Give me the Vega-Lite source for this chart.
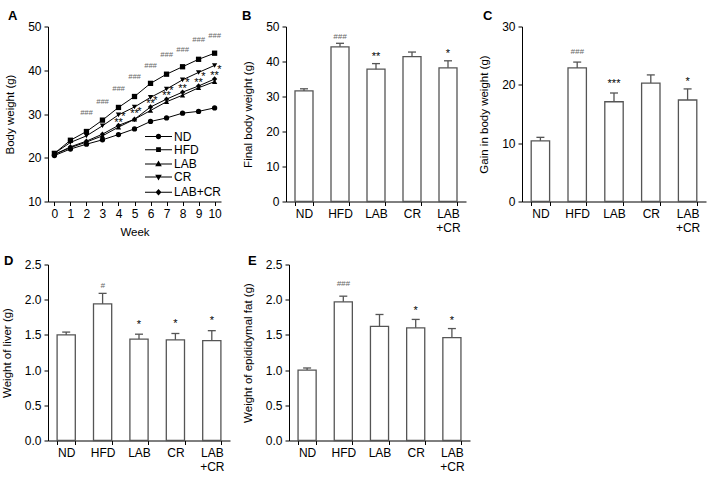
{
  "$schema": "https://vega.github.io/schema/vega-lite/v6.json",
  "autosize": {"type": "pad"},
  "padding": {"left": 1, "top": 9.5, "right": 5, "bottom": 5},
  "background": "white",
  "config": {
    "font": "Liberation Sans",
    "view": {"stroke": null},
    "axis": {
      "labelFont": "Liberation Sans", "titleFont": "Liberation Sans",
      "labelFontSize": 12, "titleFontSize": 11.5, "titleFontWeight": "normal",
      "labelColor": "black", "titleColor": "black",
      "domainColor": "black", "tickColor": "black", "domainWidth": 1, "tickWidth": 1,
      "tickSize": 4, "labelPadding": 3, "titlePadding": 12, "grid": false,
      "labelFlush": false, "labelOverlap": false
    },
    "title": {"anchor": "start", "frame": "group", "fontSize": 13, "fontWeight": "bold", "font": "Liberation Sans", "color": "black", "offset": -1}
  },
  "datasets": {
    "series": [
      {"week": 0, "group": "ND", "w": 20.5}, {"week": 1, "group": "ND", "w": 22.0}, {"week": 2, "group": "ND", "w": 23.1}, {"week": 3, "group": "ND", "w": 24.1}, {"week": 4, "group": "ND", "w": 25.3}, {"week": 5, "group": "ND", "w": 26.6}, {"week": 6, "group": "ND", "w": 28.3}, {"week": 7, "group": "ND", "w": 29.1}, {"week": 8, "group": "ND", "w": 30.2}, {"week": 9, "group": "ND", "w": 30.6}, {"week": 10, "group": "ND", "w": 31.4},
      {"week": 0, "group": "HFD", "w": 21.0}, {"week": 1, "group": "HFD", "w": 24.0}, {"week": 2, "group": "HFD", "w": 26.0}, {"week": 3, "group": "HFD", "w": 28.6}, {"week": 4, "group": "HFD", "w": 31.5}, {"week": 5, "group": "HFD", "w": 34.0}, {"week": 6, "group": "HFD", "w": 37.0}, {"week": 7, "group": "HFD", "w": 39.1}, {"week": 8, "group": "HFD", "w": 40.8}, {"week": 9, "group": "HFD", "w": 42.5}, {"week": 10, "group": "HFD", "w": 43.9},
      {"week": 0, "group": "LAB", "w": 20.8}, {"week": 1, "group": "LAB", "w": 22.3}, {"week": 2, "group": "LAB", "w": 23.6}, {"week": 3, "group": "LAB", "w": 25.0}, {"week": 4, "group": "LAB", "w": 27.0}, {"week": 5, "group": "LAB", "w": 28.8}, {"week": 6, "group": "LAB", "w": 30.8}, {"week": 7, "group": "LAB", "w": 32.8}, {"week": 8, "group": "LAB", "w": 34.3}, {"week": 9, "group": "LAB", "w": 36.0}, {"week": 10, "group": "LAB", "w": 37.4},
      {"week": 0, "group": "CR", "w": 21.0}, {"week": 1, "group": "CR", "w": 23.5}, {"week": 2, "group": "CR", "w": 25.0}, {"week": 3, "group": "CR", "w": 27.3}, {"week": 4, "group": "CR", "w": 29.8}, {"week": 5, "group": "CR", "w": 31.6}, {"week": 6, "group": "CR", "w": 33.8}, {"week": 7, "group": "CR", "w": 35.7}, {"week": 8, "group": "CR", "w": 37.8}, {"week": 9, "group": "CR", "w": 39.5}, {"week": 10, "group": "CR", "w": 41.1},
      {"week": 0, "group": "LAB+CR", "w": 20.7}, {"week": 1, "group": "LAB+CR", "w": 22.5}, {"week": 2, "group": "LAB+CR", "w": 23.8}, {"week": 3, "group": "LAB+CR", "w": 25.4}, {"week": 4, "group": "LAB+CR", "w": 27.4}, {"week": 5, "group": "LAB+CR", "w": 28.8}, {"week": 6, "group": "LAB+CR", "w": 31.6}, {"week": 7, "group": "LAB+CR", "w": 33.4}, {"week": 8, "group": "LAB+CR", "w": 35.0}, {"week": 9, "group": "LAB+CR", "w": 36.4}, {"week": 10, "group": "LAB+CR", "w": 38.0}
    ],
    "annA": [
      {"week": 2, "w": 30.3, "t": "###"}, {"week": 3, "w": 33.0, "t": "###"}, {"week": 4, "w": 35.8, "t": "###"}, {"week": 5, "w": 38.6, "t": "###"}, {"week": 6, "w": 41.2, "t": "###"}, {"week": 7, "w": 43.7, "t": "###"}, {"week": 8, "w": 44.8, "t": "###"}, {"week": 9, "w": 47.0, "t": "###"}, {"week": 10, "w": 48.1, "t": "###"},
      {"week": 4, "w": 28.7, "t": "**"}, {"week": 5, "w": 30.8, "t": "**"}, {"week": 6, "w": 33.0, "t": "**"}, {"week": 7, "w": 34.9, "t": "**"}, {"week": 8, "w": 36.5, "t": "**"}, {"week": 9, "w": 37.8, "t": "**"}, {"week": 10, "w": 39.5, "t": "**"},
      {"week": 4.3, "w": 30.0, "t": "*"}, {"week": 5.3, "w": 31.3, "t": "*"}, {"week": 6.3, "w": 33.8, "t": "*"}, {"week": 7.3, "w": 35.9, "t": "*"}, {"week": 8.3, "w": 37.8, "t": "*"}, {"week": 9.3, "w": 39.3, "t": "*"}, {"week": 10.3, "w": 40.7, "t": "*"}
    ],
    "B": [
      {"g": "ND", "m": 31.6, "hi": 32.2, "sig": "", "sy": null},
      {"g": "HFD", "m": 44.2, "hi": 45.2, "sig": "###", "sy": 47.1},
      {"g": "LAB", "m": 37.8, "hi": 39.4, "sig": "**", "sy": 42.2},
      {"g": "CR", "m": 41.4, "hi": 42.7, "sig": "", "sy": null},
      {"g": "LAB+CR", "m": 38.2, "hi": 40.2, "sig": "*", "sy": 43.1}
    ],
    "C": [
      {"g": "ND", "m": 10.4, "hi": 11.0, "sig": "", "sy": null},
      {"g": "HFD", "m": 22.9, "hi": 23.9, "sig": "###", "sy": 25.8},
      {"g": "LAB", "m": 17.1, "hi": 18.6, "sig": "***", "sy": 20.7},
      {"g": "CR", "m": 20.3, "hi": 21.7, "sig": "", "sy": null},
      {"g": "LAB+CR", "m": 17.4, "hi": 19.3, "sig": "*", "sy": 21.1}
    ],
    "D": [
      {"g": "ND", "m": 1.50, "hi": 1.54, "sig": "", "sy": null},
      {"g": "HFD", "m": 1.94, "hi": 2.09, "sig": "#", "sy": 2.21},
      {"g": "LAB", "m": 1.44, "hi": 1.51, "sig": "*", "sy": 1.68},
      {"g": "CR", "m": 1.43, "hi": 1.52, "sig": "*", "sy": 1.70},
      {"g": "LAB+CR", "m": 1.42, "hi": 1.56, "sig": "*", "sy": 1.74}
    ],
    "E": [
      {"g": "ND", "m": 1.00, "hi": 1.03, "sig": "", "sy": null},
      {"g": "HFD", "m": 1.97, "hi": 2.05, "sig": "###", "sy": 2.24},
      {"g": "LAB", "m": 1.62, "hi": 1.79, "sig": "", "sy": null},
      {"g": "CR", "m": 1.60, "hi": 1.72, "sig": "*", "sy": 1.89},
      {"g": "LAB+CR", "m": 1.46, "hi": 1.59, "sig": "*", "sy": 1.74}
    ]
  },
  "vconcat": [
    {
      "hconcat": [
        {
          "width": 173, "height": 175,
          "title": {"text": "A", "dx": -40, "dy": 1.5},
          "encoding": {
            "x": {"field": "week", "type": "quantitative", "scale": {"domain": [-0.4, 10.4], "nice": false, "zero": false}, "axis": {"values": [0,1,2,3,4,5,6,7,8,9,10], "title": "Week", "titlePadding": 7, "labelOverlap": false}},
            "y": {"field": "w", "type": "quantitative", "scale": {"domain": [10, 50], "nice": false, "zero": false}, "axis": {"values": [10,20,30,40,50], "title": "Body weight (g)", "labelOverlap": false}}
          },
          "layer": [
            {
              "data": {"name": "series"},
              "mark": {"type": "line", "color": "black", "strokeWidth": 1},
              "encoding": {"detail": {"field": "group"}}
            },
            {
              "data": {"name": "series"},
              "mark": {"type": "point", "filled": true, "color": "black", "size": 28, "opacity": 1,
                "shape": {"expr": "datum.group === 'ND' ? 'circle' : datum.group === 'HFD' ? 'square' : datum.group === 'LAB' ? 'triangle-up' : datum.group === 'CR' ? 'triangle-down' : 'diamond'"}}
            },
            {
              "data": {"name": "series"},
              "transform": [{"filter": "datum.week < -5"}],
              "mark": {"type": "point", "filled": true, "color": "black", "opacity": 1},
              "encoding": {
                "shape": {
                  "field": "group", "type": "nominal",
                  "scale": {"domain": ["ND", "HFD", "LAB", "CR", "LAB+CR"], "range": [
                    "M-4.5,-0.17L-0.5,-0.17L-0.5,0.17L-4.5,0.17ZM0.5,-0.17L4.5,-0.17L4.5,0.17L0.5,0.17ZM0.9,0A0.9,0.9,0,1,1,-0.9,0A0.9,0.9,0,1,1,0.9,0Z",
                    "M-4.5,-0.17L-0.5,-0.17L-0.5,0.17L-4.5,0.17ZM0.5,-0.17L4.5,-0.17L4.5,0.17L0.5,0.17ZM-0.8,-0.8L0.8,-0.8L0.8,0.8L-0.8,0.8Z",
                    "M-4.5,-0.17L-0.5,-0.17L-0.5,0.17L-4.5,0.17ZM0.5,-0.17L4.5,-0.17L4.5,0.17L0.5,0.17ZM0,-1.1L1.1,0.8L-1.1,0.8Z",
                    "M-4.5,-0.17L-0.5,-0.17L-0.5,0.17L-4.5,0.17ZM0.5,-0.17L4.5,-0.17L4.5,0.17L0.5,0.17ZM0,1.1L-1.1,-0.8L1.1,-0.8Z",
                    "M-4.5,-0.17L-0.5,-0.17L-0.5,0.17L-4.5,0.17ZM0.5,-0.17L4.5,-0.17L4.5,0.17L0.5,0.17ZM0,-1.1L1,0L0,1.1L-1,0Z"
                  ]},
                  "legend": {
                    "orient": "none", "legendX": 104.5, "legendY": 104, "title": null,
                    "symbolSize": 36, "labelFontSize": 12, "labelFont": "Liberation Sans", "labelColor": "black",
                    "labelOffset": 9.5, "rowPadding": 1.2, "padding": 0,
                    "symbolFillColor": "black", "symbolOpacity": 1
                  }
                }
              }
            },
            {
              "data": {"name": "annA"},
              "transform": [{"filter": "datum.t === '###'"}],
              "mark": {"type": "text", "fontSize": 7.5, "fontStyle": "italic", "color": "#666", "baseline": "alphabetic", "dy": 2.8},
              "encoding": {"text": {"field": "t"}}
            },
            {
              "data": {"name": "annA"},
              "transform": [{"filter": "datum.t !== '###'"}],
              "mark": {"type": "text", "fontSize": 11, "color": "black", "baseline": "alphabetic", "dy": 6.2},
              "encoding": {"text": {"field": "t"}}
            }
          ]
        },
        {
          "hconcat": [
            {
              "width": 180, "height": 175,
              "title": {"text": "B", "dx": -44, "dy": 1.5},
              "data": {"name": "B"},
              "encoding": {
                "x": {"field": "g", "type": "nominal", "sort": ["ND", "HFD", "LAB", "CR", "LAB+CR"], "scale": {"paddingInner": 0.5, "paddingOuter": 0.25}, "axis": {"title": null, "tickBand": "extent", "labelAngle": 0, "labelBaseline": "top", "labelLineHeight": 14, "labelOverlap": false, "labelExpr": "datum.value === 'LAB+CR' ? ['LAB', '+CR'] : datum.value"}},
                "y": {"field": "m", "type": "quantitative", "scale": {"domain": [0, 50], "nice": false}, "axis": {"values": [0,10,20,30,40,50], "title": "Final body weight (g)", "labelOverlap": false}}
              },
              "layer": [
                {"mark": {"type": "bar", "fill": "white", "stroke": "#555", "strokeWidth": 1.3}},
                {"mark": {"type": "rule", "stroke": "#555", "strokeWidth": 1.3}, "encoding": {"y2": {"field": "hi"}}},
                {"mark": {"type": "tick", "color": "#555", "thickness": 1.3, "size": 8, "opacity": 1}, "encoding": {"y": {"field": "hi", "type": "quantitative", "axis": {"values": [0,10,20,30,40,50], "title": "Final body weight (g)", "labelOverlap": false}}}},
                {"transform": [{"filter": "indexof(datum.sig, '#') >= 0"}], "mark": {"type": "text", "fontSize": 8, "fontStyle": "italic", "color": "#666", "baseline": "alphabetic", "dy": 2.8}, "encoding": {"y": {"field": "sy", "type": "quantitative", "axis": {"values": [0,10,20,30,40,50], "title": "Final body weight (g)", "labelOverlap": false}}, "text": {"field": "sig"}}},
                {"transform": [{"filter": "indexof(datum.sig, '*') >= 0"}], "mark": {"type": "text", "fontSize": 11, "color": "black", "baseline": "alphabetic", "dy": 6.2}, "encoding": {"y": {"field": "sy", "type": "quantitative", "axis": {"values": [0,10,20,30,40,50], "title": "Final body weight (g)", "labelOverlap": false}}, "text": {"field": "sig"}}}
              ]
            },
            {
              "width": 184, "height": 175,
              "title": {"text": "C", "dx": -39, "dy": 1.5},
              "data": {"name": "C"},
              "encoding": {
                "x": {"field": "g", "type": "nominal", "sort": ["ND", "HFD", "LAB", "CR", "LAB+CR"], "scale": {"paddingInner": 0.5, "paddingOuter": 0.25}, "axis": {"title": null, "tickBand": "extent", "labelAngle": 0, "labelBaseline": "top", "labelLineHeight": 14, "labelOverlap": false, "labelExpr": "datum.value === 'LAB+CR' ? ['LAB', '+CR'] : datum.value"}},
                "y": {"field": "m", "type": "quantitative", "scale": {"domain": [0, 30], "nice": false}, "axis": {"values": [0,10,20,30], "title": "Gain in body weight (g)", "labelOverlap": false}}
              },
              "layer": [
                {"mark": {"type": "bar", "fill": "white", "stroke": "#555", "strokeWidth": 1.3}},
                {"mark": {"type": "rule", "stroke": "#555", "strokeWidth": 1.3}, "encoding": {"y2": {"field": "hi"}}},
                {"mark": {"type": "tick", "color": "#555", "thickness": 1.3, "size": 8, "opacity": 1}, "encoding": {"y": {"field": "hi", "type": "quantitative", "axis": {"values": [0,10,20,30], "title": "Gain in body weight (g)", "labelOverlap": false}}}},
                {"transform": [{"filter": "indexof(datum.sig, '#') >= 0"}], "mark": {"type": "text", "fontSize": 8, "fontStyle": "italic", "color": "#666", "baseline": "alphabetic", "dy": 2.8}, "encoding": {"y": {"field": "sy", "type": "quantitative", "axis": {"values": [0,10,20,30], "title": "Gain in body weight (g)", "labelOverlap": false}}, "text": {"field": "sig"}}},
                {"transform": [{"filter": "indexof(datum.sig, '*') >= 0"}], "mark": {"type": "text", "fontSize": 11, "color": "black", "baseline": "alphabetic", "dy": 6.2}, "encoding": {"y": {"field": "sy", "type": "quantitative", "axis": {"values": [0,10,20,30], "title": "Gain in body weight (g)", "labelOverlap": false}}, "text": {"field": "sig"}}}
              ]
            }
          ],
          "spacing": 56, "bounds": "flush"
        }
      ],
      "spacing": 65, "bounds": "flush"
    },
    {
      "hconcat": [
        {
          "width": 182, "height": 176,
          "title": {"text": "D", "dx": -44, "dy": 8},
          "data": {"name": "D"},
          "encoding": {
            "x": {"field": "g", "type": "nominal", "sort": ["ND", "HFD", "LAB", "CR", "LAB+CR"], "scale": {"paddingInner": 0.5, "paddingOuter": 0.25}, "axis": {"title": null, "tickBand": "extent", "labelAngle": 0, "labelBaseline": "top", "labelLineHeight": 14, "labelOverlap": false, "labelExpr": "datum.value === 'LAB+CR' ? ['LAB', '+CR'] : datum.value"}},
            "y": {"field": "m", "type": "quantitative", "scale": {"domain": [0, 2.5], "nice": false}, "axis": {"values": [0,0.5,1,1.5,2,2.5], "format": ".1f", "title": "Weight of liver (g)", "labelOverlap": false}}
          },
          "layer": [
            {"mark": {"type": "bar", "fill": "white", "stroke": "#555", "strokeWidth": 1.3}},
            {"mark": {"type": "rule", "stroke": "#555", "strokeWidth": 1.3}, "encoding": {"y2": {"field": "hi"}}},
            {"mark": {"type": "tick", "color": "#555", "thickness": 1.3, "size": 8, "opacity": 1}, "encoding": {"y": {"field": "hi", "type": "quantitative", "axis": {"values": [0,0.5,1,1.5,2,2.5], "format": ".1f", "title": "Weight of liver (g)", "labelOverlap": false}}}},
            {"transform": [{"filter": "indexof(datum.sig, '#') >= 0"}], "mark": {"type": "text", "fontSize": 8, "fontStyle": "italic", "color": "#666", "baseline": "alphabetic", "dy": 2.8}, "encoding": {"y": {"field": "sy", "type": "quantitative", "axis": {"values": [0,0.5,1,1.5,2,2.5], "format": ".1f", "title": "Weight of liver (g)", "labelOverlap": false}}, "text": {"field": "sig"}}},
            {"transform": [{"filter": "indexof(datum.sig, '*') >= 0"}], "mark": {"type": "text", "fontSize": 11, "color": "black", "baseline": "alphabetic", "dy": 6.2}, "encoding": {"y": {"field": "sy", "type": "quantitative", "axis": {"values": [0,0.5,1,1.5,2,2.5], "format": ".1f", "title": "Weight of liver (g)", "labelOverlap": false}}, "text": {"field": "sig"}}}
          ]
        },
        {
          "width": 181, "height": 176,
          "title": {"text": "E", "dx": -41, "dy": 8},
          "data": {"name": "E"},
          "encoding": {
            "x": {"field": "g", "type": "nominal", "sort": ["ND", "HFD", "LAB", "CR", "LAB+CR"], "scale": {"paddingInner": 0.5, "paddingOuter": 0.25}, "axis": {"title": null, "tickBand": "extent", "labelAngle": 0, "labelBaseline": "top", "labelLineHeight": 14, "labelOverlap": false, "labelExpr": "datum.value === 'LAB+CR' ? ['LAB', '+CR'] : datum.value"}},
            "y": {"field": "m", "type": "quantitative", "scale": {"domain": [0, 2.5], "nice": false}, "axis": {"values": [0,0.5,1,1.5,2,2.5], "format": ".1f", "title": "Weight of epididymal fat (g)", "labelOverlap": false}}
          },
          "layer": [
            {"mark": {"type": "bar", "fill": "white", "stroke": "#555", "strokeWidth": 1.3}},
            {"mark": {"type": "rule", "stroke": "#555", "strokeWidth": 1.3}, "encoding": {"y2": {"field": "hi"}}},
            {"mark": {"type": "tick", "color": "#555", "thickness": 1.3, "size": 8, "opacity": 1}, "encoding": {"y": {"field": "hi", "type": "quantitative", "axis": {"values": [0,0.5,1,1.5,2,2.5], "format": ".1f", "title": "Weight of epididymal fat (g)", "labelOverlap": false}}}},
            {"transform": [{"filter": "indexof(datum.sig, '#') >= 0"}], "mark": {"type": "text", "fontSize": 8, "fontStyle": "italic", "color": "#666", "baseline": "alphabetic", "dy": 2.8}, "encoding": {"y": {"field": "sy", "type": "quantitative", "axis": {"values": [0,0.5,1,1.5,2,2.5], "format": ".1f", "title": "Weight of epididymal fat (g)", "labelOverlap": false}}, "text": {"field": "sig"}}},
            {"transform": [{"filter": "indexof(datum.sig, '*') >= 0"}], "mark": {"type": "text", "fontSize": 11, "color": "black", "baseline": "alphabetic", "dy": 6.2}, "encoding": {"y": {"field": "sy", "type": "quantitative", "axis": {"values": [0,0.5,1,1.5,2,2.5], "format": ".1f", "title": "Weight of epididymal fat (g)", "labelOverlap": false}}, "text": {"field": "sig"}}}
          ]
        }
      ],
      "spacing": 59, "bounds": "flush"
    }
  ],
  "spacing": 16
}
